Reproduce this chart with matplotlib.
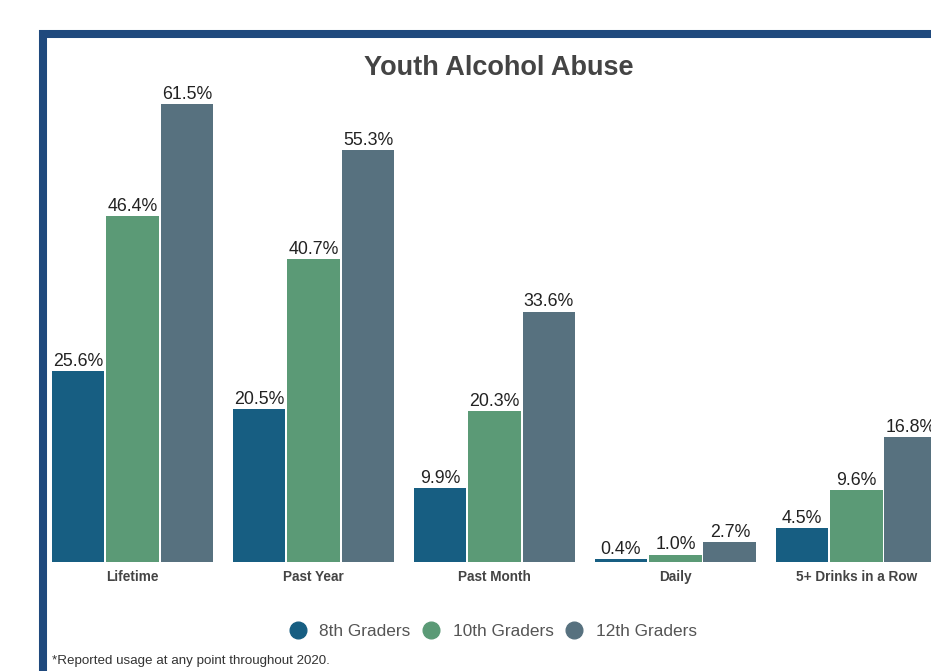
import numpy as np
import matplotlib
matplotlib.use('Agg')
import matplotlib.pyplot as plt
from matplotlib.patches import Rectangle
from matplotlib.lines import Line2D

plt.rcParams['font.family'] = ['Liberation Sans', 'DejaVu Sans']

# datos
categories = ['Lifetime', 'Past Year', 'Past Month', 'Daily', '5+ Drinks in a Row']
series = ['8th Graders', '10th Graders', '12th Graders']
grade8 = [25.6, 20.5, 9.9, 0.4, 4.5]
grade10 = [46.4, 40.7, 20.3, 1.0, 9.6]
grade12 = [61.5, 55.3, 33.6, 2.7, 16.8]
colors = ['#175e82', '#5b9a76', '#57717f']

W, H = 931, 671
fig = plt.figure(figsize=(W / 100, H / 100), dpi=100)

# marco azul (cortado a la derecha y abajo)
fig.patches.append(Rectangle((43 / W, -0.2), 2.0, (H - 34) / H + 0.2,
                             transform=fig.transFigure, fill=False,
                             edgecolor='#1f497d', linewidth=5.8, zorder=0))

# ejes: x en unidades de grupo (181 px por grupo), y en %
ax_left, ax_right = 42, 965
ax_bottom, ax_top = H - 562, H - 85
ax = fig.add_axes([ax_left / W, ax_bottom / H, (ax_right - ax_left) / W, (ax_top - ax_bottom) / H])
ax.set_xlim(-0.5, 4.6)
ax.set_ylim(0, 64)
ax.patch.set_alpha(0)
for s in ax.spines.values():
    s.set_visible(False)
ax.set_yticks([])

x = np.arange(len(categories))
step = 0.301
width = 0.292
for i, (vals, col) in enumerate(zip([grade8, grade10, grade12], colors)):
    pos = x + (i - 1) * step
    bars = ax.bar(pos, vals, width=width, color=col, label=series[i])
    for p, v in zip(pos, vals):
        ax.annotate(f'{v:.1f}%', (p, v), xytext=(0, 0.8), textcoords='offset points',
                    ha='center', va='bottom', fontsize=12.8, color='#222222',
                    annotation_clip=False)

ax.set_xticks(x)
ax.set_xticklabels(categories, fontsize=9.8, fontweight='bold', color='#444444')
ax.tick_params(axis='x', length=0, pad=6)

# título
fig.text(499 / W, 1 - 68 / H, 'Youth Alcohol Abuse', ha='center', va='center',
         fontsize=19.5, fontweight='bold', color='#444444')

# leyenda
handles = [Line2D([], [], marker='o', linestyle='none', markersize=12,
                  markerfacecolor=c, markeredgecolor=c) for c in colors]
fig.legend(handles, series, loc='center', bbox_to_anchor=(493 / W, 1 - 631 / H),
           ncol=3, frameon=False, fontsize=12.4, labelcolor='#555555',
           handletextpad=0.75, columnspacing=0.7, handlelength=1.0)

# nota
fig.text(52 / W, 1 - 661 / H, '*Reported usage at any point throughout 2020.',
         ha='left', va='center', fontsize=9.6, color='#333333')

fig.savefig('out.png', dpi=100)
